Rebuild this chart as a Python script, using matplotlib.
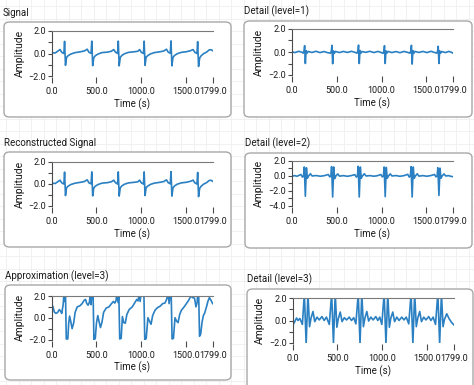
import matplotlib.pyplot as plt
import numpy as np
from matplotlib.patches import FancyBboxPatch
from matplotlib.lines import Line2D
from matplotlib.ticker import MultipleLocator

plt.rcParams['font.family'] = ['Roboto', 'DejaVu Sans']

W, H = 474, 385

# x axis
x_ticks = [0, 500, 1000, 1500, 1799]
x_labels = ['0.0', '500.0', '1000.0', '1500.0', '1799.0']

# Signal (the reconstructed signal looks identical)
sig_t = [0, 40,
         93, 113, 136, 144, 154, 166, 183, 213, 258, 318, 363,
         397, 417, 440, 448, 458, 470, 487, 517, 562, 622, 667,
         693, 713, 736, 744, 754, 766, 783, 813, 858, 918, 963,
         982, 1002, 1025, 1033, 1043, 1055, 1072, 1102, 1147, 1207, 1252,
         1282, 1302, 1325, 1333, 1343, 1355, 1372, 1402, 1447, 1507, 1552,
         1580, 1600, 1623, 1631, 1641, 1653, 1670, 1700, 1730, 1760, 1780, 1799]
sig_v = [0.07, 0.05,
         0.35, 0.1, 0.0, 1.08, -1.05, -0.35, -0.2, -0.05, 0.07, 0.15, 0.22,
         0.38, 0.1, 0.02, 1.1, -1.08, -0.38, -0.2, -0.05, 0.08, 0.12, 0.2,
         0.35, 0.12, 0.0, 1.1, -1.1, -0.35, -0.18, -0.02, 0.1, 0.15, 0.2,
         0.35, 0.1, 0.0, 1.1, -1.05, -0.33, -0.2, -0.04, 0.08, 0.15, 0.22,
         0.38, 0.12, 0.02, 1.12, -1.1, -0.35, -0.18, -0.02, 0.1, 0.16, 0.25,
         0.35, 0.1, 0.0, 1.05, -1.15, -0.4, -0.2, 0.0, 0.12, 0.32, 0.34, 0.25]
rec_t = list(sig_t)
rec_v = list(sig_v)

# Detail (level=1)
d1_t = [0, 35, 80, 115,
        128, 138, 144, 152, 160, 170, 183, 225, 270, 315, 360, 400,
        432, 442, 448, 456, 464, 474, 487, 530, 575, 620, 665, 705,
        728, 738, 744, 752, 760, 770, 783, 825, 870, 915, 960, 995,
        1017, 1027, 1033, 1041, 1049, 1059, 1072, 1115, 1160, 1205, 1250, 1290,
        1317, 1327, 1333, 1341, 1349, 1359, 1372, 1415, 1460, 1505, 1550, 1590,
        1615, 1625, 1631, 1639, 1647, 1657, 1670, 1710, 1750, 1780, 1799]
d1_v = [0.02, -0.05, 0.06, -0.03,
        -0.1, 0.12, 0.55, -1.0, 0.12, -0.1, 0.05, -0.04, 0.06, -0.05, 0.04, -0.06,
        -0.1, 0.1, 0.58, -1.02, 0.1, -0.12, 0.05, -0.05, 0.05, -0.04, 0.06, -0.03,
        -0.1, 0.12, 0.6, -1.0, 0.12, -0.1, 0.04, -0.03, 0.06, -0.05, 0.05, -0.04,
        -0.12, 0.1, 0.55, -1.0, 0.1, -0.1, 0.05, -0.05, 0.04, -0.06, 0.05, -0.03,
        -0.1, 0.12, 0.58, -1.05, 0.12, -0.12, 0.05, -0.04, 0.05, -0.05, 0.06, -0.04,
        -0.1, 0.1, 0.5, -1.0, 0.1, -0.1, 0.04, -0.05, 0.05, -0.03, -0.12]

# Detail (level=2)
d2_t = [0, 30, 60,
        103, 120, 132, 140, 152, 164, 174, 188, 208, 228, 270, 320, 365,
        407, 424, 436, 444, 456, 468, 478, 492, 512, 532, 575, 620, 665,
        703, 720, 732, 740, 752, 764, 774, 788, 808, 828, 870, 915, 955,
        992, 1009, 1021, 1029, 1041, 1053, 1063, 1077, 1097, 1117, 1160, 1205, 1250,
        1292, 1309, 1321, 1329, 1341, 1353, 1363, 1377, 1397, 1417, 1460, 1505, 1550,
        1590, 1607, 1619, 1627, 1639, 1651, 1661, 1675, 1695, 1715, 1745, 1775, 1799]
d2_v = [-0.05, 0.05, -0.03,
        0.2, -0.15, 0.0, 1.2, -2.7, 1.1, -0.3, 0.0, 0.3, 0.0, 0.06, -0.03, 0.05,
        0.2, -0.12, 0.0, 1.25, -2.8, 1.2, -0.35, 0.0, 0.28, -0.02, 0.05, -0.04, 0.06,
        0.18, -0.15, 0.02, 1.3, -2.8, 1.2, -0.3, 0.02, 0.3, 0.0, 0.05, -0.03, 0.04,
        0.2, -0.12, 0.0, 1.2, -2.75, 1.15, -0.3, 0.0, 0.28, 0.0, 0.06, -0.04, 0.05,
        0.22, -0.15, 0.0, 1.25, -2.8, 1.2, -0.32, 0.0, 0.3, -0.02, 0.05, -0.03, 0.06,
        0.2, -0.12, 0.0, 1.1, -2.6, 1.05, -0.3, 0.0, 0.28, 0.0, 0.05, -0.05, -0.1]

# Approximation (level=3)
ap_t = [0, 12, 30, 48, 67, 85, 100, 112, 128, 138, 146, 154, 163, 180, 190, 200,
        212, 228, 245, 262, 285, 315, 340, 362, 378, 392, 407, 422,
        432, 440, 448, 462, 472, 487, 500, 515, 528, 545, 562, 580, 610, 640,
        668, 690, 705, 718,
        730, 742, 750, 760, 776, 790, 805, 822, 840, 865, 900, 930, 950, 965,
        978, 988, 1000, 1030, 1040, 1056, 1075, 1092, 1110, 1128, 1155, 1185,
        1210, 1240, 1265, 1285,
        1300, 1312, 1325, 1335, 1345, 1360, 1378, 1395, 1412, 1430, 1450, 1480,
        1505, 1530, 1555, 1575, 1596, 1612, 1625,
        1632, 1642, 1652, 1665, 1680, 1695, 1710, 1733, 1745, 1762, 1780, 1799]
ap_v = [1.3, 1.05, 0.52, 0.4, 0.5, 0.75, 0.6, 0.4, 1.2, 2.3, 1.5, 2.3, -1.95, -1.95, -0.5, 0.15,
        -0.3, -1.0, -0.5, 0.5, 1.0, 1.1, 1.3, 1.6, 1.68, 1.3, 1.15, 1.45,
        2.3, 1.2, 2.3, 2.3, -2.05, -1.9, -0.5, 0.2, -0.3, -0.9, -0.4, 0.5, 0.9, 1.0,
        1.3, 1.5, 1.35, 1.55,
        2.3, 1.4, 2.3, -1.95, -1.9, 0.1, -0.45, -0.5, 0.3, 0.75, 1.0, 1.4, 1.68, 1.55,
        2.3, 1.5, 2.3, 2.3, -2.05, -1.9, 0.0, -0.3, -0.6, 0.2, 0.7, 0.95,
        1.05, 1.3, 1.35, 1.7,
        2.3, 1.3, 2.3, 2.3, -1.95, -1.9, 0.0, -0.3, -0.45, 0.3, 0.7, 1.0,
        1.3, 1.6, 2.0, 1.85, 1.8, 1.0, 1.4,
        2.3, 2.3, -1.7, -1.5, -0.4, 0.2, 0.45, 1.1, 1.5, 1.85, 1.6, 1.3]

# Detail (level=3)
d3_t = [0, 25, 45, 62, 82, 110,
        132, 152, 172, 190, 206, 228, 248, 273, 298, 328, 353, 378, 410,
        436, 456, 476, 494, 510, 532, 552, 577, 602, 632, 657, 682, 706,
        732, 752, 772, 790, 806, 828, 848, 873, 898, 928, 950, 972, 995,
        1021, 1041, 1061, 1079, 1095, 1117, 1137, 1162, 1187, 1217, 1242, 1267, 1295,
        1321, 1341, 1361, 1379, 1395, 1417, 1437, 1462, 1487, 1517, 1542, 1567, 1593,
        1619, 1639, 1659, 1677, 1693, 1718, 1745, 1775, 1799]
d3_v = [-0.5, -0.1, 0.22, 0.0, 0.18, -0.35,
        2.4, -2.05, 2.4, -0.55, 0.2, 0.8, -0.1, 0.3, 0.05, 0.35, 0.0, 0.3, -0.35,
        2.4, -2.05, 2.4, -0.6, 0.15, 0.75, -0.1, 0.25, 0.05, 0.3, 0.0, 0.25, -0.3,
        2.4, -2.05, 2.4, -0.55, 0.2, 0.8, -0.05, 0.3, 0.05, 0.35, 0.0, 0.3, -0.35,
        2.4, -2.05, 2.4, -0.6, 0.2, 0.75, -0.1, 0.3, 0.0, 0.3, 0.05, 0.3, -0.3,
        2.4, -2.05, 2.4, -0.55, 0.2, 0.8, -0.1, 0.3, 0.05, 0.35, 0.0, 0.3, -0.35,
        2.4, -2.05, 2.4, -0.55, 0.1, 0.6, 0.15, -0.2, -0.4]

titles = ['Signal', 'Detail (level=1)', 'Reconstructed Signal',
          'Detail (level=2)', 'Approximation (level=3)', 'Detail (level=3)']
series = [(sig_t, sig_v), (d1_t, d1_v), (rec_t, rec_v),
          (d2_t, d2_v), (ap_t, ap_v), (d3_t, d3_v)]
y_ranges = [(-2, 2), (-2, 2), (-2, 2), (-4, 2), (-2, 2), (-2, 2)]

# layout in pixels: box (x0, y0, x1, y1), plot (x0, y0, x1, y1), title (x, y)
boxes = [(4, 22, 231, 117), (244, 21, 472, 117), (4, 152, 231, 247),
         (245, 153, 472, 248), (5, 285, 231, 380), (247, 289, 473, 395)]
plots = [(51.7, 31, 212.7, 76), (291.7, 29, 453.3, 75), (51.7, 162, 212.7, 206),
         (291.7, 161, 453.3, 206), (51.7, 296, 212.7, 339.5), (292.5, 298, 454, 343)]
title_pos = [(3, 13), (244, 11), (4, 143), (245, 143), (5, 276), (247, 279)]

fig = plt.figure(figsize=(W / 100, H / 100), dpi=100)
fig.patch.set_facecolor('white')

# faint front panel grid
for gx in np.arange(6, W, 12.5):
    fig.add_artist(Line2D([gx / W] * 2, [0, 1], transform=fig.transFigure,
                          color='#efefef', lw=0.6, zorder=-3))
for gy in np.arange(6, H, 12.5):
    fig.add_artist(Line2D([0, 1], [1 - gy / H] * 2, transform=fig.transFigure,
                          color='#efefef', lw=0.6, zorder=-3))

for i in range(6):
    bx0, by0, bx1, by1 = boxes[i]
    fig.add_artist(FancyBboxPatch((bx0 / W, 1 - by1 / H), (bx1 - bx0) / W, (by1 - by0) / H,
                                  boxstyle='round,pad=0,rounding_size=0.012',
                                  transform=fig.transFigure, facecolor='white',
                                  edgecolor='#a8a8a8', lw=1.0, zorder=-2))
    tx, ty = title_pos[i]
    fig.text(tx / W, 1 - ty / H, titles[i], fontsize=7, color='#1a1a1a',
             ha='left', va='center')

    px0, py0, px1, py1 = plots[i]
    ax = fig.add_axes([px0 / W, 1 - py1 / H, (px1 - px0) / W, (py1 - py0) / H])
    t, v = series[i]
    ax.plot(t, v, color='#2a80c2', lw=1.2)

    ymin, ymax = y_ranges[i]
    ax.set_xlim(0, 1799)
    ax.set_ylim(ymin, ymax)
    ax.set_xticks(x_ticks)
    ax.set_xticklabels(x_labels)
    yt = list(range(ymin, ymax + 1, 2))
    ax.set_yticks(yt)
    ax.set_yticklabels([('%.1f' % y).replace('-', '\u2212') for y in yt])
    ax.yaxis.set_minor_locator(MultipleLocator(1))

    ax.spines['right'].set_visible(False)
    ax.spines['bottom'].set_visible(False)
    ax.spines['bottom'].set_position(('outward', 1))
    ax.spines['left'].set_color('#4a4a4a')
    ax.spines['top'].set_color('#7a7a7a')
    ax.tick_params(axis='x', direction='out', length=4, width=0.8, pad=3,
                   labelsize=6.5, colors='#4a4a4a', labelcolor='#1a1a1a')
    ax.tick_params(axis='y', which='both', direction='out', length=3, width=0.8,
                   pad=1, labelsize=6.5, colors='#4a4a4a', labelcolor='#1a1a1a')

    ax.set_ylabel('Amplitude', fontsize=7.5, color='#1a1a1a', va='center')
    ax.yaxis.set_label_coords(-0.2, 0.5)
    ax.set_xlabel('Time (s)', fontsize=7, color='#1a1a1a', va='center')
    ax.xaxis.set_label_coords(0.5, -28 / (py1 - py0))

fig.savefig('out.png', dpi=100)
